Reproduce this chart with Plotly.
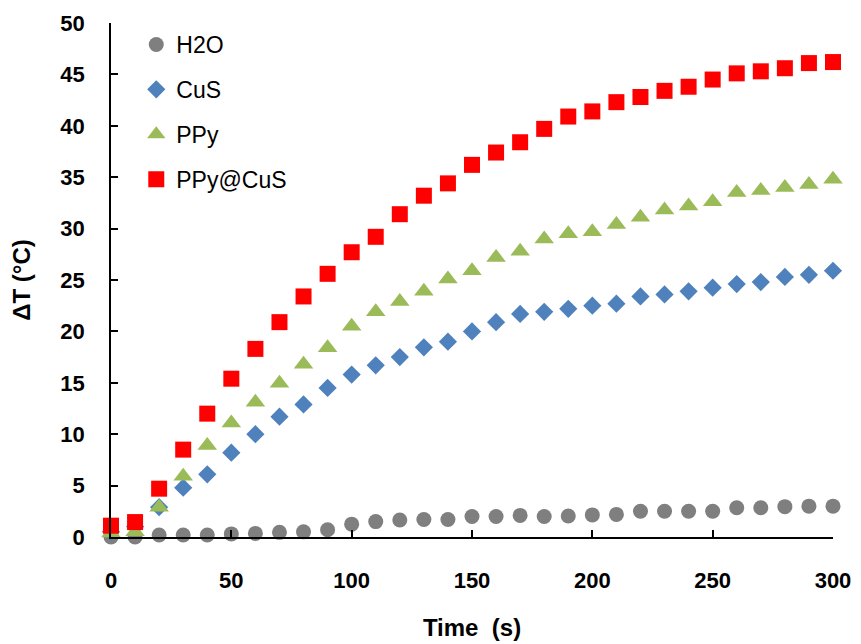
import plotly.graph_objects as go

time_s = [0, 10, 20, 30, 40, 50, 60, 70, 80, 90, 100, 110, 120, 130, 140, 150,
          160, 170, 180, 190, 200, 210, 220, 230, 240, 250, 260, 270, 280, 290, 300]

h2o = [0.0, 0.0, 0.2, 0.2, 0.2, 0.3, 0.35, 0.45, 0.5, 0.7, 1.25, 1.5, 1.65, 1.7, 1.7, 2.0,
       2.0, 2.1, 2.0, 2.05, 2.15, 2.2, 2.5, 2.5, 2.5, 2.5, 2.85, 2.85, 2.95, 3.0, 3.0]

cus = [0.5, 1.0, 2.9, 4.8, 6.1, 8.2, 10.0, 11.7, 12.9, 14.5, 15.8, 16.7, 17.5, 18.45, 19.0, 20.0,
       20.9, 21.7, 21.9, 22.2, 22.5, 22.7, 23.4, 23.6, 23.9, 24.25, 24.6, 24.8, 25.3, 25.5, 25.9]

ppy = [0.4, 0.5, 2.9, 5.9, 8.9, 11.1, 13.1, 14.95, 16.8, 18.4, 20.5, 21.9, 22.9, 23.9, 25.1, 25.9,
       27.2, 27.8, 29.0, 29.5, 29.7, 30.4, 31.1, 31.8, 32.2, 32.6, 33.5, 33.7, 34.0, 34.3, 34.8]

ppy_cus = [1.1, 1.45, 4.7, 8.5, 12.0, 15.4, 18.3, 20.9, 23.4, 25.6, 27.7, 29.2, 31.4, 33.2, 34.4, 36.2,
           37.4, 38.4, 39.7, 40.9, 41.4, 42.3, 42.8, 43.4, 43.8, 44.5, 45.1, 45.3, 45.6, 46.1, 46.2]

series_names = ["H2O", "CuS", "PPy", "PPy@CuS"]
x_ticks = [0, 50, 100, 150, 200, 250, 300]
y_ticks = [0, 5, 10, 15, 20, 25, 30, 35, 40, 45, 50]

FONT = "Arial, 'Liberation Sans', sans-serif"

styles = [
    dict(symbol="circle", color="#7f7f7f", size=15),
    dict(symbol="diamond", color="#4f81bd", size=14),
    dict(symbol="triangle-up", color="#9bbb59", size=17),
    dict(symbol="square", color="#ff0000", size=16),
]

fig = go.Figure()
for name, ys, st in zip(series_names, [h2o, cus, ppy, ppy_cus], styles):
    fig.add_trace(go.Scatter(
        x=time_s, y=ys, mode="markers", name=name, legendgroup=name,
        cliponaxis=False,
        marker=dict(symbol=st["symbol"], color=st["color"], size=st["size"], line=dict(width=0)),
    ))

# page body has an 8px margin, so the figure is sized/offset to compensate
fig.update_layout(
    width=853, height=636,
    margin=dict(l=103, r=28, t=15, b=107, autoexpand=False),
    paper_bgcolor="white", plot_bgcolor="white",
    font=dict(family=FONT, color="black"),
    legend=dict(
        x=0.035, y=1.0, xanchor="left", yanchor="top",
        font=dict(size=23, family=FONT, color="black"),
        bgcolor="rgba(0,0,0,0)", tracegroupgap=12, itemwidth=30,
        traceorder="grouped",
    ),
    showlegend=True,
)

fig.update_xaxes(
    range=[0, 300], tickvals=x_ticks, ticktext=[str(v) for v in x_ticks],
    showgrid=False, zeroline=False, showline=True, linecolor="black", linewidth=1.5,
    ticks="inside", ticklen=7, tickwidth=1.5, tickcolor="black",
    tickfont=dict(size=22, family=FONT, color="black", weight="bold"),
    ticklabelstandoff=23, automargin=False,
    title=dict(text="Time  (s)", font=dict(size=24, family=FONT, color="black", weight="bold"), standoff=27),
)
fig.update_yaxes(
    range=[0, 50], tickvals=y_ticks, ticktext=[str(v) for v in y_ticks],
    showgrid=False, zeroline=False, showline=True, linecolor="black", linewidth=1.5,
    ticks="inside", ticklen=7, tickwidth=1.5, tickcolor="black",
    tickfont=dict(size=22, family=FONT, color="black", weight="bold"),
    ticklabelstandoff=20, automargin=False,
    title=dict(text="ΔT (°C)", font=dict(size=24, family=FONT, color="black", weight="bold"), standoff=23),
)

fig.write_html("out.html")
